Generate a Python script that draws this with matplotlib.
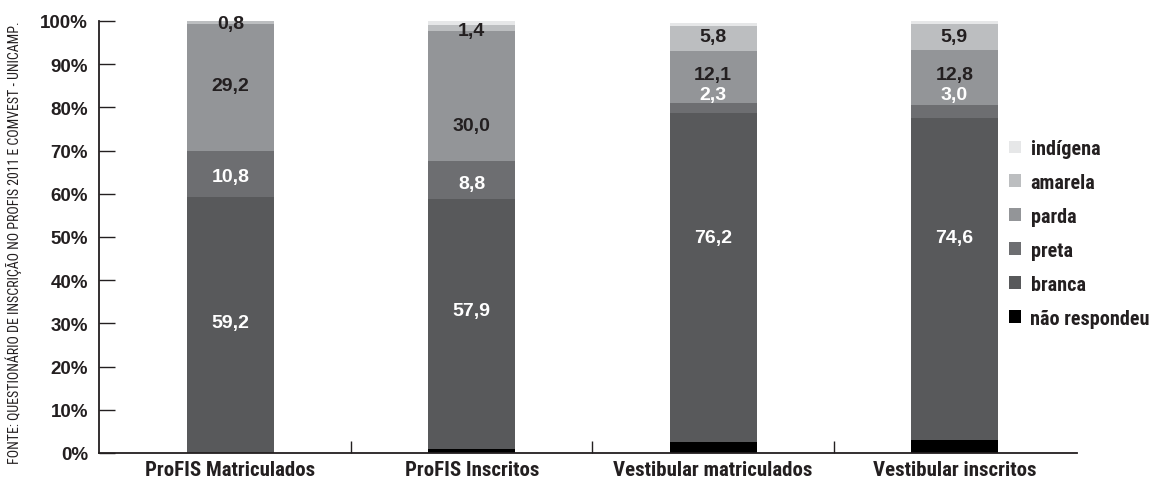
import matplotlib
matplotlib.use("Agg")
import matplotlib.pyplot as plt
from matplotlib.patches import Patch
from matplotlib.ticker import FixedLocator
from matplotlib import font_manager as fm
import numpy as np

# ---------------- data ----------------
categories = ["ProFIS Matriculados", "ProFIS Inscritos",
              "Vestibular matriculados", "Vestibular inscritos"]
series_names = ["não respondeu", "branca", "preta", "parda", "amarela", "indígena"]
nao_respondeu = [0.0, 0.9, 2.5, 3.0]
branca = [59.2, 57.9, 76.2, 74.6]
preta = [10.8, 8.8, 2.3, 3.0]
parda = [29.2, 30.0, 12.1, 12.8]
amarela = [0.8, 1.4, 5.8, 5.9]
indigena = [0.0, 1.0, 0.6, 0.7]
yticks = [0, 10, 20, 30, 40, 50, 60, 70, 80, 90, 100]
ytick_labels = [f"{v}%" for v in yticks]
source = "FONTE: QUESTIONÁRIO DE INSCRIÇÃO NO PROFIS 2011 E COMVEST - UNICAMP."

# ---------------- style / layout ----------------
colors = ["#000000", "#58595b", "#6d6e71", "#939598", "#bcbec0", "#e6e7e8"]
label_series = {"branca": "white", "preta": "white", "parda": "#231f20", "amarela": "#231f20"}
label_pos = {
    "branca": [30.3, 32.9, 49.8, 49.8],
    "preta": [64.1, 62.3, 82.9, 82.9],
    "parda": [85.0, 75.7, 87.5, 87.5],
    "amarela": [99.4, 97.9, 96.3, 96.4],
}

available = set(f.name for f in fm.fontManager.ttflist)


def pick(prefs):
    out = [p for p in prefs if p in available]
    return out + ["DejaVu Sans"]


cond = pick(["Roboto Condensed", "Archivo Narrow", "PT Sans Narrow", "DejaVu Sans Condensed"])
reg = pick(["Liberation Sans", "Arimo"])
narrow = cond[0] != "DejaVu Sans"

W, H = 1152, 481
fig = plt.figure(figsize=(W / 100, H / 100), dpi=100)
ax = fig.add_axes([99 / W, (H - 454) / H, (1077 - 99) / W, (454 - 22) / H])

values = [nao_respondeu, branca, preta, parda, amarela, indigena]
x = np.arange(len(categories))
bottom = np.zeros(len(categories))
for name, vals, col in zip(series_names, values, colors):
    ax.bar(x, vals, width=0.36, bottom=bottom, color=col, linewidth=0, zorder=2)
    if name in label_series:
        for i, v in enumerate(vals):
            ax.text(x[i], label_pos[name][i], f"{v:.1f}".replace(".", ","),
                    ha="center", va="center", fontsize=14, fontweight="bold",
                    color=label_series[name], family=reg, zorder=3)
    bottom += np.array(vals)

ax.set_xlim(-0.545, 3.508)
ax.set_ylim(0, 100)
for s in ["top", "right"]:
    ax.spines[s].set_visible(False)
for s in ["left", "bottom"]:
    ax.spines[s].set_color("#231f20")
    ax.spines[s].set_linewidth(1.3)

ax.set_yticks(yticks)
ax.set_yticklabels(ytick_labels, family=reg, fontweight="bold", fontsize=13.5, color="#231f20")
ax.tick_params(axis="y", direction="in", length=11.5, width=1.0, color="#231f20", pad=8)

csize = 15 if narrow else 11.5
ax.set_xticks(x)
ax.set_xticklabels(categories, family=cond, fontweight="bold", fontsize=csize, color="#231f20")
ax.tick_params(axis="x", which="major", length=0, pad=5)
ax.xaxis.set_minor_locator(FixedLocator([0.5, 1.5, 2.5]))
ax.tick_params(axis="x", which="minor", direction="in", length=9, width=1.0, color="#231f20")

lsize = 14.5 if narrow else 10.5
handles = [Patch(facecolor=c, edgecolor="none") for c in colors]


def make_legend(x0):
    lg = fig.legend(handles[::-1], series_names[::-1], loc="upper left",
                    bbox_to_anchor=(x0 / W, 1 - 140 / H), bbox_transform=fig.transFigure,
                    frameon=False, borderpad=0, borderaxespad=0,
                    handlelength=0.6, handleheight=0.6, handletextpad=0.45,
                    labelspacing=0.74,
                    prop={"family": cond, "weight": "bold", "size": lsize})
    for t in lg.get_texts():
        t.set_color("#231f20")
    return lg


leg = make_legend(1030)
fig.canvas.draw()
r = fig.canvas.get_renderer()
right = max(t.get_window_extent(r).x1 for t in leg.get_texts())
leg.remove()
leg = make_legend(1030 - (right - 1150))

fig.text(14 / W, (H - 243) / H, source, rotation=90, ha="center", va="center",
         fontsize=10 if narrow else 7.5, family=cond, color="#231f20")

fig.savefig("out.png", dpi=100)
